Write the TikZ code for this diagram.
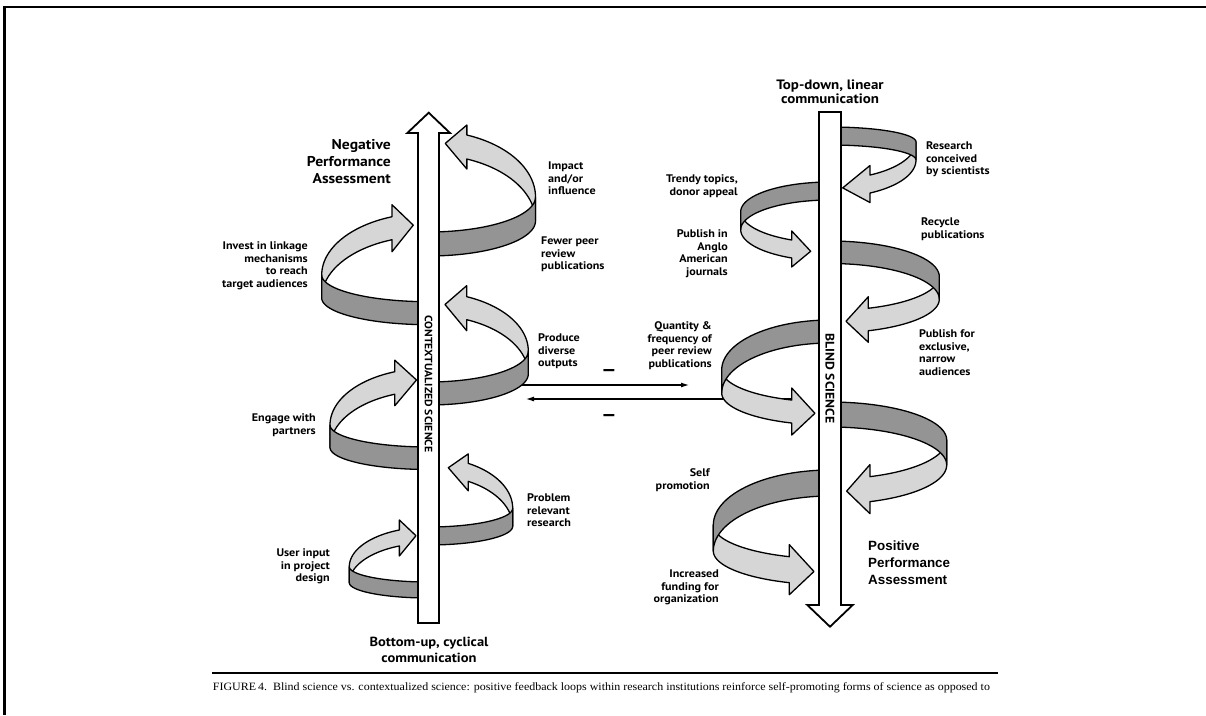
\documentclass[tikz,border=0pt]{standalone}
\usepackage{fontspec}
\usepackage{graphicx}
\usetikzlibrary{arrows.meta}
\newfontfamily\labfont{PT Sans}[FakeStretch=1.1]
\newfontfamily\arialfont{Liberation Sans}
\newfontfamily\capfont{Liberation Serif}
\newsavebox\capbox

% helical ribbon: front half (outer face, dark) and back half (inner face, light) ending in an arrowhead
\pgfkeys{/rib/.is family, /rib/.cd,
  cx/.store in=\rbcx, s/.store in=\rbs, R/.store in=\rbR,
  ya/.store in=\rbya, ye/.store in=\rbye, kb/.store in=\rbkb,
  h/.store in=\rbh, t1/.store in=\rbta, t2/.store in=\rbtb, w/.store in=\rbw}
\newcommand\ribbon[1]{%
  \pgfkeys{/rib/.cd,#1}%
  \pgfmathsetmacro\rbkf{\rbya-\rbye}%
  \filldraw[backface]
    plot[domain=90:\rbta, samples=30] ({\rbcx+(\rbs)*\rbR*sin(\x)}, {\rbye+(\rbkb)*cos(\x)})
    -- ({\rbcx+(\rbs)*\rbR*sin(\rbta)}, {\rbye+(\rbkb)*cos(\rbta)-\rbw})
    -- ({\rbcx+(\rbs)*\rbR*sin(\rbtb)}, {\rbye+(\rbkb)*cos(\rbtb)+\rbh/2})
    -- ({\rbcx+(\rbs)*\rbR*sin(\rbta)}, {\rbye+(\rbkb)*cos(\rbta)+\rbh+\rbw})
    -- plot[domain=\rbta:90, samples=30] ({\rbcx+(\rbs)*\rbR*sin(\x)}, {\rbye+(\rbkb)*cos(\x)+\rbh})
    -- cycle;
  \filldraw[frontface]
    plot[domain=0:90, samples=30] ({\rbcx+(\rbs)*\rbR*sin(\x)}, {\rbye+(\rbkf)*cos(\x)})
    -- plot[domain=90:0, samples=30] ({\rbcx+(\rbs)*\rbR*sin(\x)}, {\rbye+(\rbkf)*cos(\x)+\rbh})
    -- cycle;
}

\tikzset{
  frontface/.style={fill=black!42, draw=black, line width=1.3pt},
  backface/.style={fill=black!16, draw=black, line width=1.3pt},
  shaft/.style={fill=white, draw=black, line width=1.8pt, line join=miter},
  lab/.style={font=\labfont\bfseries\fontsize{11}{12.6}\selectfont, inner sep=0pt},
  labl/.style={lab, align=left, anchor=base west},
  labr/.style={lab, align=right, anchor=base east},
  shafttext/.style={font=\labfont\bfseries\fontsize{#1}{12}\selectfont, inner sep=0pt, rotate=-90},
  minus/.style={font=\arialfont\bfseries\fontsize{22}{22}\selectfont, inner sep=0pt, anchor=base},
  conn/.style={line width=1.1pt, -{Latex[length=8pt,width=5pt]}},
}

\begin{document}
% caption line, measured so that it can be fitted to the rule
\sbox\capbox{\capfont\fontsize{11.2}{12}\selectfont FIGURE\,4.\ \ Blind science vs. contextualized science: positive feedback loops within research institutions reinforce self-promoting forms of science as opposed to}%
\pgfmathsetmacro\capsx{777/\wd\capbox}%
\begin{tikzpicture}[x=1pt, y=-1pt, line join=round]
\useasboundingbox (0,0) rectangle (1206,715);

% page frame and caption rule
\draw[line width=2.3pt, line join=miter] (4.5,715) -- (4.5,7) -- (1206,7);
\draw[line width=2pt] (212,673) -- (998,673);
\node[anchor=base west, inner sep=0pt] (cap) at (212.7,690) {\scalebox{\capsx}[1]{\usebox\capbox}};

% connectors between the two columns
\coordinate (upA) at (445,385);
\coordinate (upB) at (689,385);
\coordinate (loA) at (800,399);
\coordinate (loB) at (526,399);
\draw[conn] (upA) -- (upB);
\draw[conn] (loA) -- (loB);
\node[minus] (m1) at (609,376) {–};
\node[minus] (m2) at (609,421) {–};

% ribbons round the contextualized-science shaft (spiralling upward)
\ribbon{cx=428.5, s=1,  R=107,   ya=232,   ye=197,   kb=66.4, h=24,   t1=159,   t2=171,   w=10}
\ribbon{cx=428.5, s=-1, R=106.8, ya=301.7, ye=275,   kb=62,   h=23,   t1=160,   t2=171.8, w=12}
\ribbon{cx=428.5, s=1,  R=99.8,  ya=382,   ye=351,   kb=58.8, h=23,   t1=157.5, t2=170.5, w=11}
\ribbon{cx=428.5, s=-1, R=98.5,  ya=447,   ye=425,   kb=56.7, h=22.5, t1=160,   t2=173,   w=11.5}
\ribbon{cx=428.5, s=1,  R=84.2,  ya=527,   ye=508.3, kb=51,   h=18,   t1=151.8, t2=166.4, w=9.5}
\ribbon{cx=428.5, s=-1, R=79.2,  ya=582,   ye=566.7, kb=39.5, h=16,   t1=158.4, t2=170.9, w=10}

% ribbons round the blind-science shaft (spiralling downward)
\ribbon{cx=830, s=1,  R=86,    ya=127, ye=142,   kb=-37.3, h=18,   t1=152.3, t2=171.5, w=9.5}
\ribbon{cx=830, s=-1, R=89.3,  ya=182, ye=211.7, kb=-31.3, h=18,   t1=154.6, t2=167.5, w=9}
\ribbon{cx=830, s=1,  R=109.3, ya=241, ye=276.7, kb=-33.7, h=22.5, t1=159.5, t2=171.6, w=11.5}
\ribbon{cx=830, s=-1, R=108.3, ya=320, ye=370,   kb=-32.1, h=23,   t1=159.3, t2=172,   w=12}
\ribbon{cx=830, s=1,  R=116.7, ya=402, ye=440,   kb=-39,   h=25,   t1=160,   t2=171.8, w=12}
\ribbon{cx=830, s=-1, R=116.7, ya=470, ye=525,   kb=-33.8, h=26,   t1=159.6, t2=172.1, w=12}

% the two shafts
\draw[shaft] (418,623) -- (418,133) -- (407.3,133) -- (428.7,112.7) -- (450,133) -- (439,133) -- (439,623) -- cycle;
\draw[shaft] (819,112) -- (841,112) -- (841,605) -- (852.7,605) -- (830,626.7) -- (807.3,605) -- (819,605) -- cycle;
\node[shafttext=10.6] (ctx) at (428.7,384) {CONTEXTUALIZED SCIENCE};
\node[shafttext=12.4] (bld) at (830,378.5) {BLIND SCIENCE};

% headings
\node[font=\labfont\bfseries\fontsize{13.6}{14}\selectfont, inner sep=0pt, align=center, anchor=base] (top) at (830,103) {Top-down, linear\\communication};
\node[font=\labfont\bfseries\fontsize{13.2}{16}\selectfont, inner sep=0pt, align=center, anchor=base] (bot) at (429,662.5) {Bottom-up, cyclical\\communication};
\node[font=\labfont\bfseries\fontsize{14.2}{16.7}\selectfont, inner sep=0pt, align=right, anchor=base east] (neg) at (391,183) {Negative\\Performance\\Assessment};
\node[font=\arialfont\bfseries\fontsize{13.4}{16.6}\selectfont, inner sep=0pt, align=left, anchor=base west] (pos) at (868,584) {Positive\\Performance\\Assessment};

% loop labels, contextualized science
\node[labl] (impact)  at (548,194.7) {Impact\\and/or\\influence};
\node[labl] (fewer)   at (541,269.7) {Fewer peer\\review\\publications};
\node[labr] (invest)  at (308,287.3) {Invest in linkage\\mechanisms\\to reach\\target audiences};
\node[labl] (produce) at (538,366.7) {Produce\\diverse\\outputs};
\node[labr] (engage)  at (316,434.1) {Engage with\\partners};
\node[labl] (problem) at (527,526.7) {Problem\\relevant\\research};
\node[labr] (user)    at (330,581.7) {User input\\in project\\design};

% loop labels, blind science
\node[labl] (research) at (926,174.7) {Research\\conceived\\by scientists};
\node[labr] (trendy)   at (738,195.1) {Trendy topics,\\donor appeal};
\node[labl] (recycle)  at (921,238.1) {Recycle\\publications};
\node[labr] (anglo)    at (728,275.3) {Publish in\\Anglo\\American\\journals};
\node[labr] (quantity) at (712,367.3) {Quantity \&\\frequency of\\peer review\\publications};
\node[labl] (narrow)   at (919,375.3) {Publish for\\exclusive,\\narrow\\audiences};
\node[labr] (self)     at (710,489.1) {Self\\promotion};
\node[labr] (funding)  at (719,602.7) {Increased\\funding for\\organization};
\end{tikzpicture}
\end{document}
